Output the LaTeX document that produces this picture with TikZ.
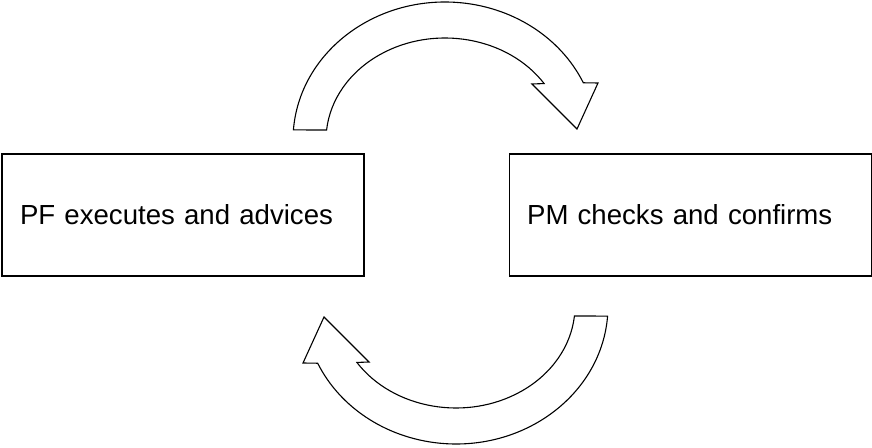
\documentclass[tikz,border=0pt]{standalone}
\usepackage{fontspec}
\setmainfont{Liberation Sans}
\usetikzlibrary{positioning}
\tikzset{%
	stepbox/.style={draw, line width=1.1pt, rectangle, minimum height=122pt,
		text width=326pt, inner xsep=18pt, align=left,
		font=\fontsize{27.6}{32}\selectfont},
	bendarrow/.pic={
		\draw[line width=1.1pt, line join=miter]
			(175.8:152pt and 138pt)
			arc[start angle=175.8, end angle=24.5, x radius=152pt, y radius=138pt]
			-- (153,57) -- (132,11) -- (87,56)
			-- (33.6:119pt and 102pt)
			arc[start angle=33.6, end angle=174.4, x radius=119pt, y radius=102pt]
			-- cycle;
	}
}
\begin{document}
\begin{tikzpicture}[x=1pt, y=1pt]
	\useasboundingbox (0,0) rectangle (872,447);

	\node[stepbox] (pf) at (183,232) {PF executes and advices};
	\node[stepbox, right=144pt of pf] (pm) {PM checks and confirms};

	% upper and lower block arrows
	\pic at (445,307) {bendarrow};
	\pic[rotate=180] at (456,141) {bendarrow};
\end{tikzpicture}
\end{document}
